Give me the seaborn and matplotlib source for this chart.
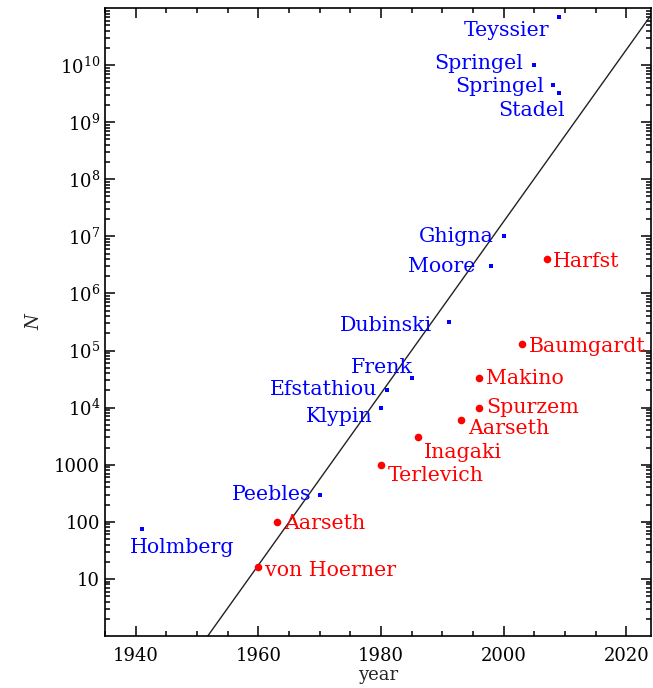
import numpy as np
import pandas as pd
import matplotlib
matplotlib.use("Agg")
import matplotlib.pyplot as plt
import seaborn as sns
from matplotlib.ticker import LogLocator, FixedLocator, MultipleLocator, FuncFormatter, NullFormatter

# Gravitational N-body simulations: cosmological (blue) and star-cluster (red)
cosmo_names = ["Holmberg", "Peebles", "Klypin", "Efstathiou", "Frenk", "Dubinski",
               "Moore", "Ghigna", "Springel", "Springel", "Stadel", "Teyssier"]
cosmo_year = [1941, 1970, 1980, 1981, 1985, 1991, 1998, 2000, 2005, 2008, 2009, 2009]
cosmo_n = [74, 300, 1.0e4, 2.0e4, 32768, 3.2e5, 3.0e6, 1.0e7, 1.0e10, 4.4e9, 3.2e9, 6.9e10]

cluster_names = ["von Hoerner", "Aarseth", "Terlevich", "Inagaki", "Aarseth",
                 "Spurzem", "Makino", "Baumgardt", "Harfst"]
cluster_year = [1960, 1963, 1980, 1986, 1993, 1996, 1996, 2003, 2007]
cluster_n = [16, 100, 1000, 3000, 6000, 1.0e4, 32768, 131072, 4.0e6]

# Doubling of N every two years
trend_start_year = 1951.75
trend_doubling_years = 2.0
trend_years = [1951.75, 2024.0]

# Label offsets (pixels) and alignment for each point
cosmo_offsets = [(-12, -18), (-8, 0), (-8, -9), (-10, 1), (1, 11), (-16, -4),
                 (-16, 0), (-10, 0), (-11, 2), (-9, -1), (6, -17), (-10, -13)]
cosmo_ha = ["left", "right", "right", "right", "right", "right",
            "right", "right", "right", "right", "right", "right"]
cluster_offsets = [(7, -3), (7, -2), (7, -11), (6, -15), (7, -8),
                   (7, 0), (7, 0), (7, -3), (6, -2)]

sns.set_theme(style="ticks")
plt.rcParams["font.family"] = ["DejaVu Serif", "DejaVu Sans"]
plt.rcParams["mathtext.fontset"] = "dejavuserif"

fig = plt.figure(figsize=(6.53, 6.88), dpi=100)
ax = fig.add_axes([105 / 653, 52 / 688, 546 / 653, 628 / 688])

df_c = pd.DataFrame({"year": cosmo_year, "N": cosmo_n, "name": cosmo_names})
df_s = pd.DataFrame({"year": cluster_year, "N": cluster_n, "name": cluster_names})

ty = np.array(trend_years)
tn = 2.0 ** ((ty - trend_start_year) / trend_doubling_years)
sns.lineplot(x=ty, y=tn, ax=ax, color="#222222", linewidth=1.0, zorder=2)

sns.scatterplot(data=df_c, x="year", y="N", ax=ax, marker="s", color="#0000ff",
                s=12, linewidth=0, zorder=3)
sns.scatterplot(data=df_s, x="year", y="N", ax=ax, marker="o", color="#ff0000",
                s=30, linewidth=0, zorder=3)

ax.set_yscale("log")
ax.set_xlim(1935, 2024)
ax.set_ylim(1, 1e11)

for (name, x, y), (dx, dy), ha in zip(zip(cosmo_names, cosmo_year, cosmo_n), cosmo_offsets, cosmo_ha):
    ax.annotate(name, (x, y), xytext=(dx, dy), textcoords="offset pixels",
                ha=ha, va="center", color="#0000ff", fontsize=14.8, zorder=4)
for (name, x, y), (dx, dy) in zip(zip(cluster_names, cluster_year, cluster_n), cluster_offsets):
    ax.annotate(name, (x, y), xytext=(dx, dy), textcoords="offset pixels",
                ha="left", va="center", color="#ff0000", fontsize=14.8, zorder=4,
                annotation_clip=False)

def ytick_fmt(v, pos):
    e = int(round(np.log10(v)))
    if e <= 3:
        return f"{int(round(v))}"
    return rf"$10^{{{e}}}$"

ax.yaxis.set_major_locator(FixedLocator([10 ** e for e in range(1, 11)]))
ax.yaxis.set_major_formatter(FuncFormatter(ytick_fmt))
ax.yaxis.set_minor_locator(LogLocator(base=10, subs=np.arange(2, 10), numticks=20))
ax.yaxis.set_minor_formatter(NullFormatter())
ax.xaxis.set_major_locator(MultipleLocator(20))
ax.xaxis.set_minor_locator(MultipleLocator(5))

ax.tick_params(which="both", direction="in", top=True, right=True, colors="black",
               labelsize=13, width=1.1)
ax.tick_params(which="major", length=7)
ax.tick_params(which="minor", length=3.5)
ax.tick_params(axis="x", pad=8)
for sp in ax.spines.values():
    sp.set_linewidth(1.2)
    sp.set_color("black")

ax.set_xlabel("year", fontsize=13, labelpad=1)
ax.set_ylabel("N", fontsize=13, style="italic", labelpad=8)

fig.savefig("out.png", dpi=100)
